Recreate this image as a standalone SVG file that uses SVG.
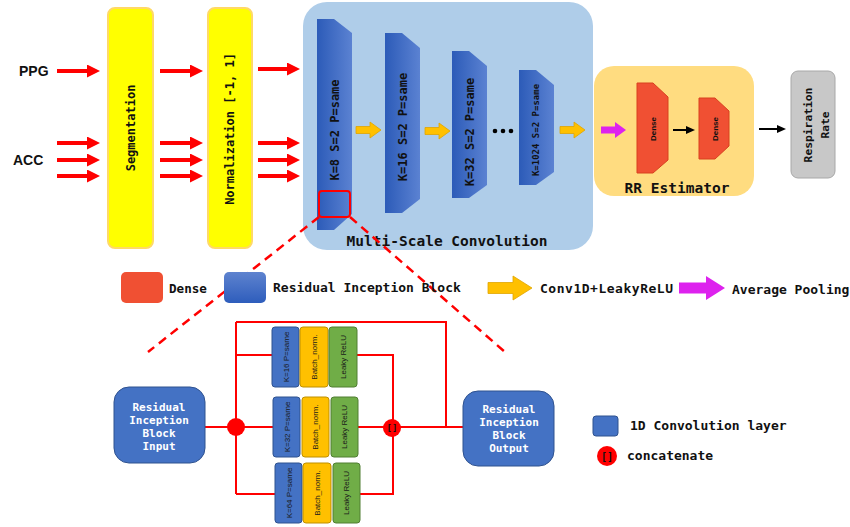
<svg xmlns="http://www.w3.org/2000/svg" width="850" height="527" viewBox="0 0 850 527">
<defs>
<linearGradient id="gBlue" x1="0" y1="0" x2="1" y2="0"><stop offset="0" stop-color="#2C5BB8"/><stop offset="1" stop-color="#5B82D2"/></linearGradient>
<linearGradient id="gBlueV" x1="0" y1="0" x2="0" y2="1"><stop offset="0" stop-color="#5E83CF"/><stop offset="1" stop-color="#2E5DBC"/></linearGradient>
<marker id="mRed" markerUnits="userSpaceOnUse" markerWidth="13" markerHeight="13" refX="1" refY="6.5" orient="auto"><path d="M0,0 L13,6.5 L0,13 z" fill="#FF0000"/></marker>
<marker id="mBlack" markerUnits="userSpaceOnUse" markerWidth="9" markerHeight="8" refX="1" refY="4" orient="auto"><path d="M0,0 L9,4 L0,8 z" fill="#000"/></marker>
<g id="oArrow"><path d="M0,-3.5 L14,-3.5 L14,-8 L25,0 L14,8 L14,3.5 L0,3.5 z" fill="#FFC000" stroke="#E0A400" stroke-width="0.8"/></g>
</defs>
<style>
.red{stroke:#FF0000;stroke-width:4;fill:none}
.rline{stroke:#FF0000;stroke-width:2;fill:none}
.dash{stroke:#FF0000;stroke-width:2.5;stroke-dasharray:9,6;fill:none}
.mono{font-family:"DejaVu Sans Mono","Liberation Mono",monospace;font-weight:bold;fill:#111}
.sans{font-family:"Liberation Sans","Open Sans",sans-serif;font-weight:bold;fill:#111}
.small{font-family:"Liberation Sans","Open Sans",sans-serif;fill:#1a1a1a;font-size:8px}
.yel{fill:#FFFF00;stroke:#FFD966;stroke-width:2}
.trap{fill:url(#gBlue)}
.dense{fill:#F05033;stroke:#D8401F;stroke-width:1}
.cb{fill:#4472C4;stroke:#2F528F;stroke-width:1}
.cy{fill:#FFC000;stroke:#BF9000;stroke-width:1}
.cg{fill:#70AD47;stroke:#507E32;stroke-width:1}
.wt{font-family:"DejaVu Sans Mono","Liberation Mono",monospace;font-weight:bold;fill:#fff;font-size:11px}
</style>

<g id="inputs">
<text class="sans" x="19" y="76" font-size="14">PPG</text>
<text class="sans" x="13" y="165" font-size="14">ACC</text>
</g>

<g id="segmentation">
<rect class="yel" x="108" y="8" width="45" height="240" rx="7"/>
<text class="mono" font-size="12" transform="translate(131,128) rotate(-90)" text-anchor="middle" dominant-baseline="central">Segmentation</text>
</g>

<g id="normalization">
<rect class="yel" x="208" y="8" width="44" height="240" rx="7"/>
<text class="mono" font-size="12" transform="translate(230,129) rotate(-90)" text-anchor="middle" dominant-baseline="central">Normalization [-1, 1]</text>
</g>

<g id="multiscale">
<rect x="303" y="2" width="290" height="248" rx="24" fill="#AFCDE9"/>
<polygon class="trap" points="317,19 334,19 352,33 352,214 334,230 317,230"/>
<text class="mono" font-size="12" fill="#000" transform="translate(335,130) rotate(-90)" text-anchor="middle" dominant-baseline="central">K=8 S=2 P=same</text>
<polygon class="trap" points="385,33 402,33 420,48 420,199 402,213 385,213"/>
<text class="mono" font-size="12" transform="translate(403,127) rotate(-90)" text-anchor="middle" dominant-baseline="central">K=16 S=2 P=same</text>
<polygon class="trap" points="452,51 469,51 487,66 487,185 469,198 452,198"/>
<text class="mono" font-size="12" transform="translate(470,132) rotate(-90)" text-anchor="middle" dominant-baseline="central">K=32 S=2 P=same</text>
<polygon class="trap" points="519,70 536,70 554,85 554,172 536,185 519,185"/>
<text class="mono" font-size="9" transform="translate(536,130) rotate(-90)" text-anchor="middle" dominant-baseline="central">K=1024 S=2 P=same</text>
<circle cx="495" cy="131" r="2.3" fill="#000"/><circle cx="503" cy="131" r="2.3" fill="#000"/><circle cx="511" cy="131" r="2.3" fill="#000"/>
<rect x="319" y="191" width="31" height="26" rx="3" fill="none" stroke="#FF0000" stroke-width="2"/>
<text class="mono" font-size="14.5" x="447" y="246" text-anchor="middle">Multi-Scale Convolution</text>
</g>

<g id="rrestimator">
<rect x="594" y="66" width="160" height="130" rx="20" fill="#FFDC80"/>
<polygon class="dense" points="637,83 653,83 668,97 668,160 653,173 637,173"/>
<text class="sans" font-size="8" transform="translate(653,129) rotate(-90)" text-anchor="middle" dominant-baseline="central">Dense</text>
<polygon class="dense" points="699,98 715,98 729,111 729,146 715,159 699,159"/>
<text class="sans" font-size="8" transform="translate(715,129) rotate(-90)" text-anchor="middle" dominant-baseline="central">Dense</text>
<text class="mono" font-size="14.5" x="677" y="193" text-anchor="middle">RR Estimator</text>
</g>

<g id="respiration">
<rect x="791" y="71" width="44" height="107" rx="7" fill="#C8C8C8" stroke="#A8A8A8" stroke-width="1"/>
<text class="mono" font-size="11.3" transform="translate(813,125) rotate(-90)" text-anchor="middle">
<tspan x="0" dy="-1">Respiration</tspan><tspan x="0" dy="17">Rate</tspan></text>
</g>

<g id="connectors">
<line class="red" x1="57" y1="71" x2="88" y2="71" marker-end="url(#mRed)"/>
<line class="red" x1="57" y1="143" x2="88" y2="143" marker-end="url(#mRed)"/>
<line class="red" x1="57" y1="160" x2="88" y2="160" marker-end="url(#mRed)"/>
<line class="red" x1="57" y1="176" x2="88" y2="176" marker-end="url(#mRed)"/>
<line class="red" x1="160" y1="71" x2="191" y2="71" marker-end="url(#mRed)"/>
<line class="red" x1="160" y1="143" x2="191" y2="143" marker-end="url(#mRed)"/>
<line class="red" x1="160" y1="160" x2="191" y2="160" marker-end="url(#mRed)"/>
<line class="red" x1="160" y1="176" x2="191" y2="176" marker-end="url(#mRed)"/>
<line class="red" x1="258" y1="69" x2="288" y2="69" marker-end="url(#mRed)"/>
<line class="red" x1="258" y1="143" x2="288" y2="143" marker-end="url(#mRed)"/>
<line class="red" x1="258" y1="160" x2="288" y2="160" marker-end="url(#mRed)"/>
<line class="red" x1="258" y1="176" x2="288" y2="176" marker-end="url(#mRed)"/>
<use href="#oArrow" x="356" y="130"/>
<use href="#oArrow" x="425" y="131"/>
<use href="#oArrow" x="560" y="130"/>
<path d="M601,126.5 L615,126.5 L615,122 L626,130 L615,138 L615,133.5 L601,133.5 z" fill="#DD22EE"/>
<line x1="673" y1="130" x2="687" y2="130" stroke="#000" stroke-width="2" marker-end="url(#mBlack)"/>
<line x1="759" y1="129" x2="778" y2="129" stroke="#000" stroke-width="2" marker-end="url(#mBlack)"/>
<line class="dash" x1="319" y1="217" x2="148" y2="352"/>
<line class="dash" x1="350" y1="217" x2="505" y2="352"/>
<line class="rline" x1="205" y1="427" x2="236" y2="427"/>
<path class="rline" d="M236,322 L236,494"/>
<path class="rline" d="M236,322 L446,322 L446,427"/>
<line class="rline" x1="236" y1="355" x2="272" y2="355"/>
<line class="rline" x1="236" y1="427" x2="273" y2="427"/>
<line class="rline" x1="236" y1="494" x2="275" y2="494"/>
<path class="rline" d="M357,355 L393,355 L393,494 L360,494"/>
<line class="rline" x1="358" y1="427" x2="463" y2="427"/>
</g>

<g id="legend">
<rect x="121" y="272" width="42" height="31" rx="5" fill="#F05033"/>
<text class="mono" font-size="12.6" x="169" y="293">Dense</text>
<rect x="224" y="272" width="42" height="31" rx="5" fill="url(#gBlueV)"/>
<text class="mono" font-size="13" x="273" y="292">Residual Inception Block</text>
<path d="M488,282.5 L513,282.5 L513,276 L532,288 L513,300 L513,293.5 L488,293.5 z" fill="#FFC000" stroke="#E0A400" stroke-width="0.8"/>
<text class="mono" font-size="13" x="540" y="293" textLength="133">Conv1D+LeakyReLU</text>
<path d="M679,282.5 L706,282.5 L706,276 L725,288 L706,300 L706,293.5 L679,293.5 z" fill="#DD22EE"/>
<text class="mono" font-size="13" x="732" y="294">Average Pooling</text>
<rect x="593" y="416" width="25" height="20" rx="3" fill="#4472C4" stroke="#2F528F" stroke-width="1"/>
<text class="mono" font-size="13" x="630" y="430">1D Convolution layer</text>
<circle cx="607" cy="456" r="10" fill="#FF0000"/>
<text class="mono" font-size="10" x="607" y="460" text-anchor="middle">[]</text>
<text class="mono" font-size="13" x="627" y="460">concatenate</text>
</g>

<g id="rib-input">
<rect x="114" y="387" width="91" height="76" rx="15" fill="#4472C4" stroke="#2F528F" stroke-width="1"/>
<text class="wt" text-anchor="middle"><tspan x="159" y="411">Residual</tspan><tspan x="159" y="424">Inception</tspan><tspan x="159" y="437">Block</tspan><tspan x="159" y="450">Input</tspan></text>
</g>

<g id="split">
<circle cx="236" cy="427" r="9" fill="#FF0000"/>
</g>

<g id="branch1">
<rect class="cb" x="272" y="327" width="27" height="60" rx="3"/>
<text class="small" transform="translate(286,357) rotate(-90)" text-anchor="middle" dominant-baseline="central">K=16  P=same</text>
<rect class="cy" x="300" y="327" width="28" height="60" rx="3"/>
<text class="small" transform="translate(314,357) rotate(-90)" text-anchor="middle" dominant-baseline="central">Batch_norm.</text>
<rect class="cg" x="329" y="327" width="28" height="60" rx="3"/>
<text class="small" transform="translate(343,357) rotate(-90)" text-anchor="middle" dominant-baseline="central">Leaky ReLU</text>
</g>

<g id="branch2">
<rect class="cb" x="273" y="397" width="27" height="60" rx="3"/>
<text class="small" transform="translate(287,427) rotate(-90)" text-anchor="middle" dominant-baseline="central">K=32  P=same</text>
<rect class="cy" x="302" y="397" width="27" height="60" rx="3"/>
<text class="small" transform="translate(315.5,427) rotate(-90)" text-anchor="middle" dominant-baseline="central">Batch_norm.</text>
<rect class="cg" x="331" y="397" width="27" height="60" rx="3"/>
<text class="small" transform="translate(344.5,427) rotate(-90)" text-anchor="middle" dominant-baseline="central">Leaky ReLU</text>
</g>

<g id="branch3">
<rect class="cb" x="275" y="463" width="27" height="60" rx="3"/>
<text class="small" transform="translate(289,493) rotate(-90)" text-anchor="middle" dominant-baseline="central">K=64  P=same</text>
<rect class="cy" x="303" y="463" width="28" height="60" rx="3"/>
<text class="small" transform="translate(317,493) rotate(-90)" text-anchor="middle" dominant-baseline="central">Batch_norm.</text>
<rect class="cg" x="333" y="463" width="27" height="60" rx="3"/>
<text class="small" transform="translate(346.5,493) rotate(-90)" text-anchor="middle" dominant-baseline="central">Leaky ReLU</text>
</g>

<g id="concat">
<circle cx="392" cy="428" r="9" fill="#FF0000"/>
<text class="mono" font-size="9" x="392" y="431" text-anchor="middle">[]</text>
</g>

<g id="rib-output">
<rect x="463" y="391" width="91" height="75" rx="15" fill="#4472C4" stroke="#2F528F" stroke-width="1"/>
<text class="wt" text-anchor="middle"><tspan x="509" y="413">Residual</tspan><tspan x="509" y="426">Inception</tspan><tspan x="509" y="439">Block</tspan><tspan x="509" y="452">Output</tspan></text>
</g>
</svg>
